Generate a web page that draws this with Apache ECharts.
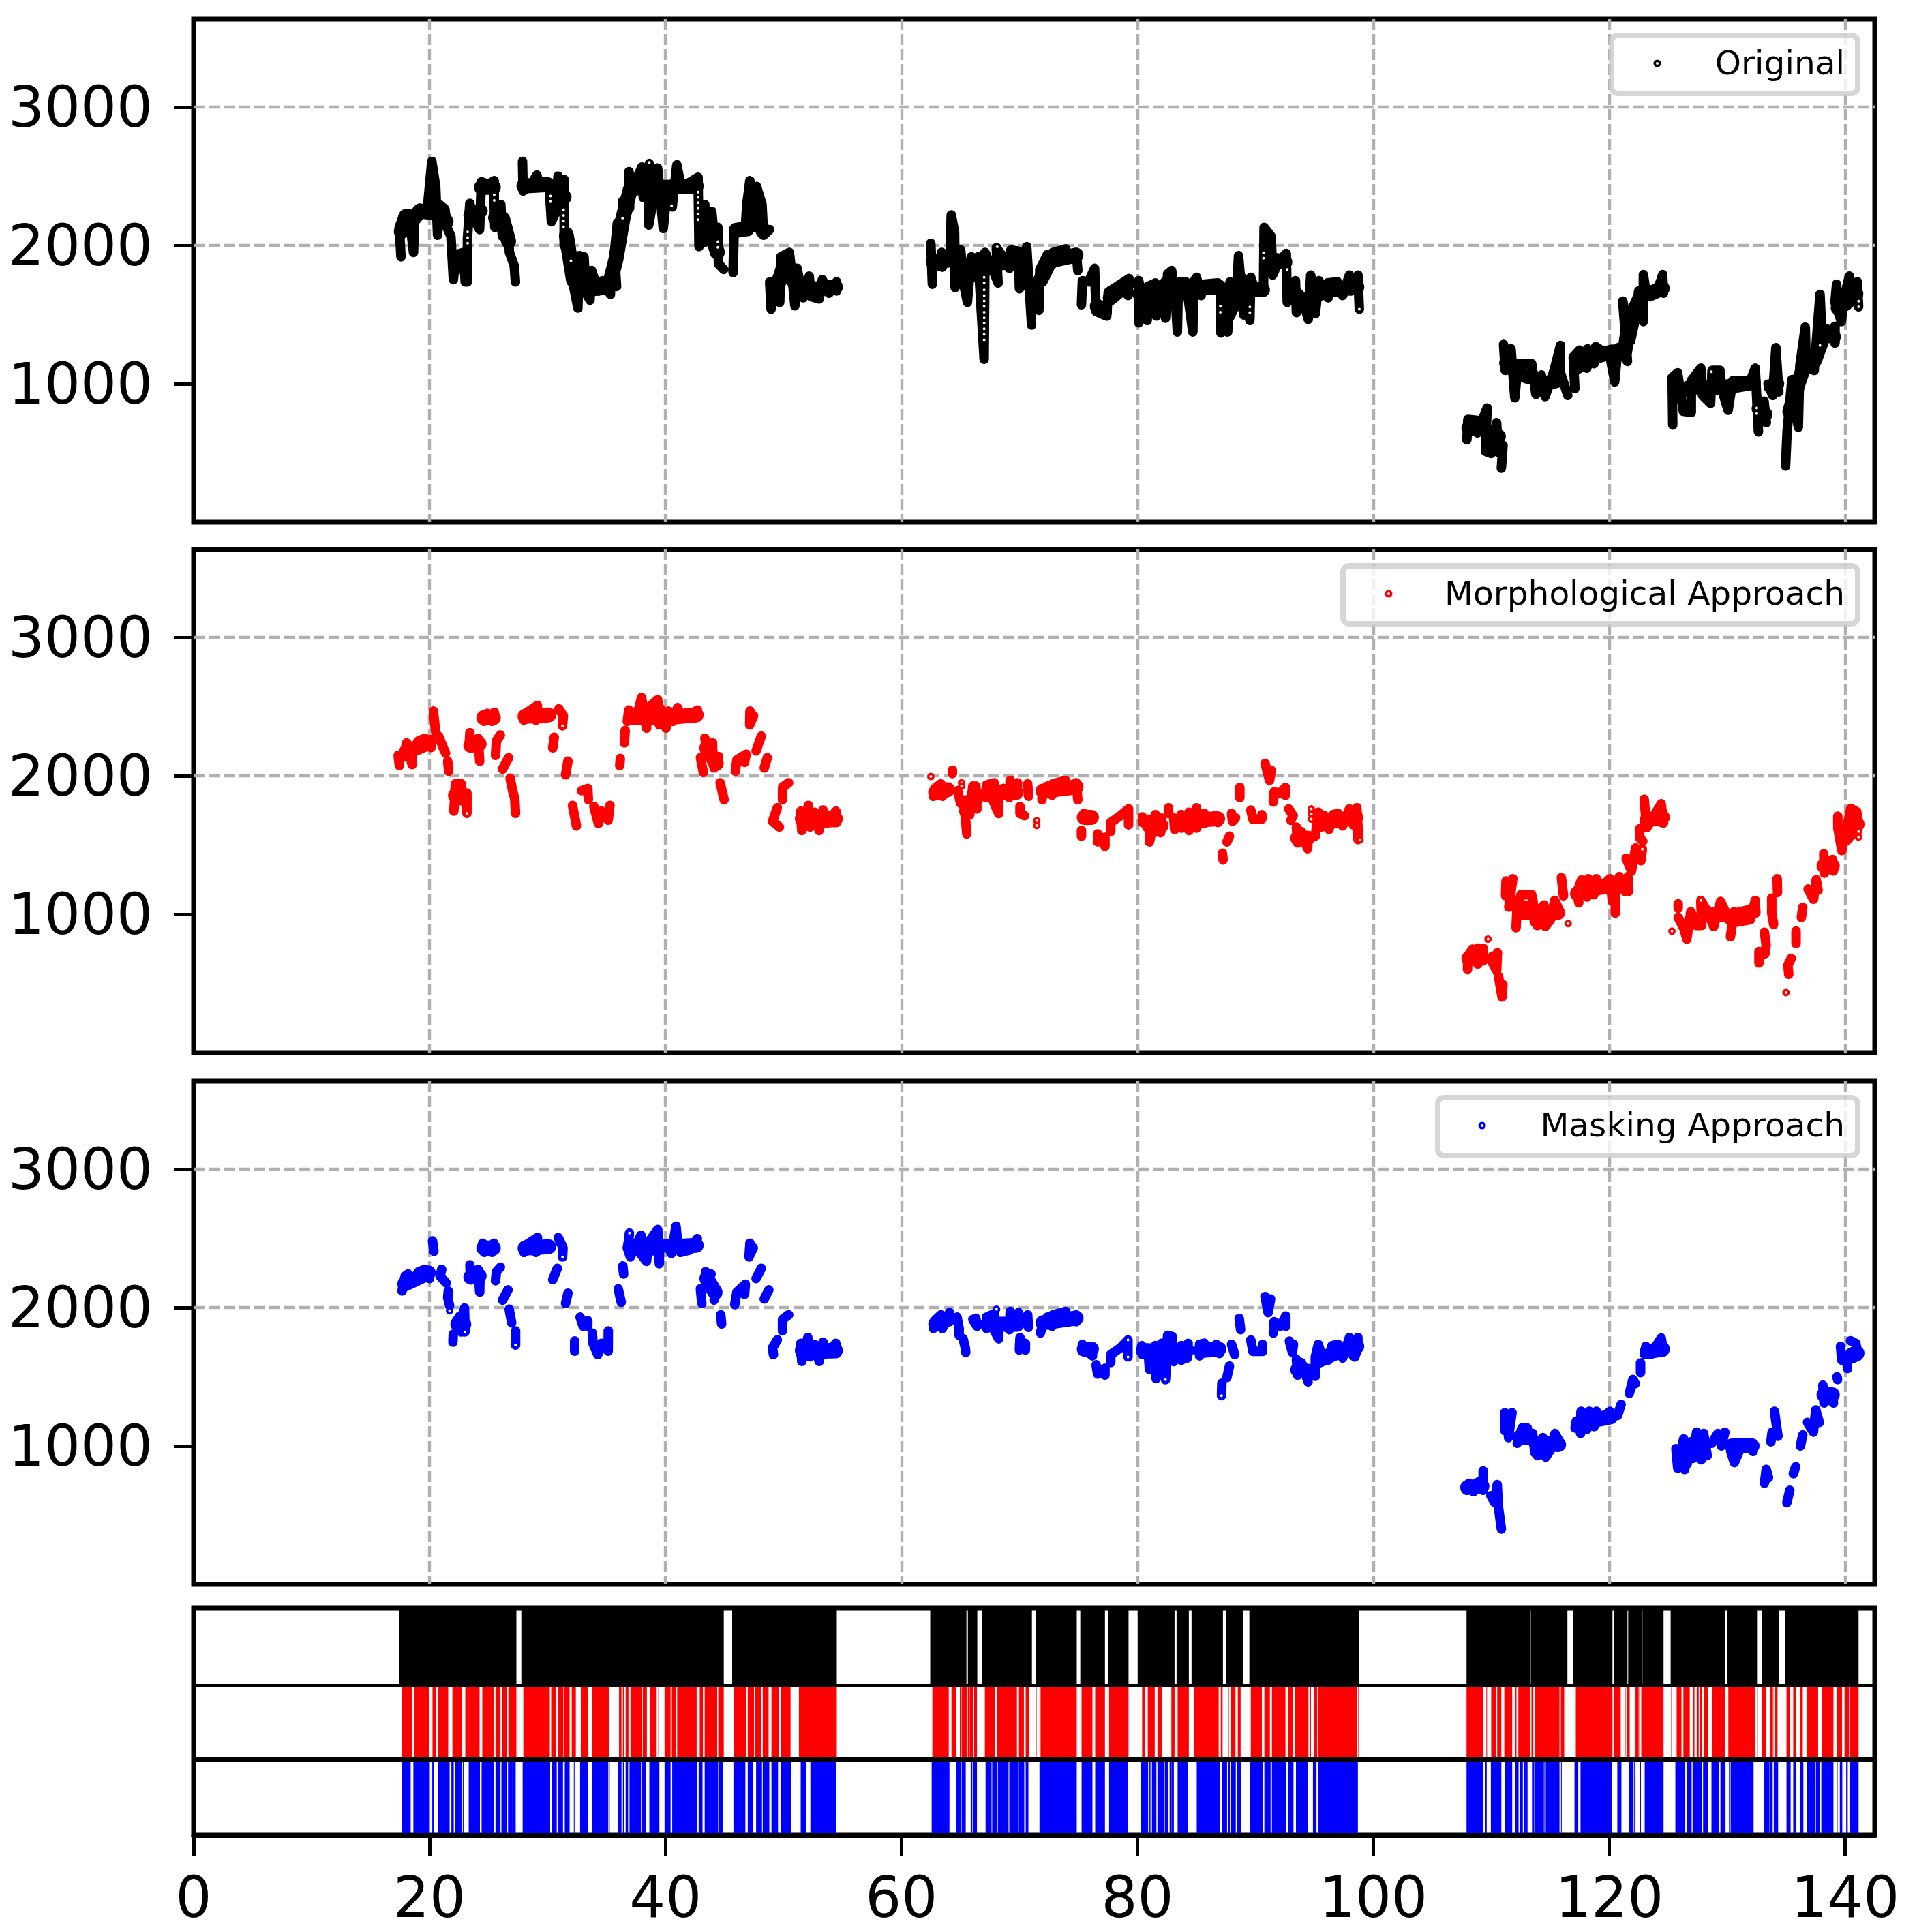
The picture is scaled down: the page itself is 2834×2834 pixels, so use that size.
<!DOCTYPE html>
<html>
<head>
<meta charset="utf-8">
<style>
  html, body { margin: 0; padding: 0; background: #fff; }
  #chart { width: 2834px; height: 2834px; }
</style>
<script src="https://cdn.jsdelivr.net/npm/echarts@6/dist/echarts.min.js"></script>
</head>
<body>
<div id="chart"></div>
<script>
const timeTicks = [0, 20, 40, 60, 80, 100, 120, 140]
const valueTicks = [1000, 2000, 3000]
const legendNames = ['Original', 'Morphological Approach', 'Masking Approach']

// dense runs of samples as [time, value]; null = pen up
const originalTrace = [
  [17.58,1918],[17.43,2131],[17.79,2213],[18.25,2230],[18.64,1950],[18.72,2164],[19.16,2254],[19.80,2254],[20.19,2608],[20.52,2427],[20.68,2074],[20.83,2296],[21.30,2263],[21.48,2131],[21.81,2066],[22.02,1753],[22.25,1934],[22.90,1950],[23.02,1737],[23.21,1737],[23.21,2049],[23.41,2304],[23.67,2213],[24.24,2115],[24.39,2460],[24.96,2443],[25.48,2468],[25.48,2296],[25.53,2131],[26.04,2296],[26.17,2066],[26.64,2123],[26.77,1950],[27.18,1852],[27.28,1737],
  null,
  [27.88,2608],[27.93,2394],[28.57,2435],[29.09,2509],[29.35,2419],[30.12,2452],[30.33,2172],[30.64,2230],[30.89,2501],[31.15,2296],[31.41,2476],[31.41,2000],[31.72,2098],[31.98,1983],[32.06,1770],[32.57,1548],[32.70,1926],[33.09,1918],[33.27,1655],[33.60,1605],[33.73,1819],[34.30,1671],[34.64,1745],[35.33,1647],[35.33,1803],[35.85,1704],[35.67,1950],[35.92,2164],[36.31,2041],[36.36,2320],[36.96,2271],[36.90,2534],[37.21,2411],[37.99,2567],[38.12,2345],[38.63,2591],[38.58,2148],[39.02,2361],[39.33,2559],[39.81,2123],[40.18,2427],[40.57,2279],[40.96,2583],[41.34,2419],[42.76,2493],[42.84,1992],[43.33,2296],[43.33,2024],[43.92,2246],[44.05,2131],[44.44,2131],[44.49,1868],[44.94,1827],
  null,
  [45.73,1803],[45.81,2082],[46.12,2123],[46.76,2115],[46.89,2296],[47.15,2468],[47.54,2131],[47.72,2427],[48.18,2296],[48.31,2074],[48.83,2115],
  null,
  [48.83,1737],[48.95,1540],[49.47,1770],[49.68,1589],[49.78,1918],[50.50,1950],[50.63,1852],[50.97,1564],[51.15,1835],[51.66,1622],[52.18,1778],[52.36,1630],[53.03,1614],[53.29,1753],[53.86,1655],[54.50,1737],[54.50,1671],
  null,
  [62.62,1720],[62.49,2016],[62.57,1868],[63.47,1844],[63.39,1950],[64.12,1909],[64.22,2221],[64.50,2098],[64.55,1696],[65.02,1967],[65.28,1720],[65.59,1589],[65.92,1918],[66.31,1770],[66.49,1918],[67.01,1178],[67.08,1950],[67.78,1819],[68.19,1729],[68.04,1983],[68.63,1918],[69.15,1835],[69.28,1967],[69.92,1959],[70.00,1688],[70.62,1991],[71.03,1425],
  null,
  [71.65,1531],[71.73,1827],[72.37,1934],[72.76,1860],[72.84,1950],[73.92,1975],[74.18,1901],[74.82,1950],[74.95,1819],
  null,
  [75.26,1572],[75.34,1745],[75.86,1737],[76.37,1835],[76.50,1523],[77.40,1490],[77.53,1663],[78.56,1720],[79.29,1761],[79.21,1638],
  null,
  [80.11,1441],[80.11,1745],[80.83,1458],[80.89,1704],[81.53,1729],[81.58,1490],[82.31,1737],[82.38,1474],[82.56,1794],[82.90,1819],[83.21,1622],[83.39,1375],[83.47,1737],[84.11,1737],[84.70,1375],[84.76,1737],[85.01,1770],[85.40,1638],[85.53,1720],[86.82,1729],[87.08,1696],[87.08,1367],
  null,
  [87.65,1375],[87.85,1737],[88.37,1556],[88.57,1926],[89.01,1498],
  null,
  [89.53,1458],[89.61,1770],[89.91,1688],[90.69,1688],[90.74,2131],[91.34,2065],[91.46,1786],[91.98,1885],[92.62,1942],[92.70,1589],[93.40,1745],[93.48,1515],[94.04,1605],[94.48,1466],[94.69,1786],[95.08,1507],[95.39,1745],[96.16,1622],[96.11,1729],[96.96,1737],[97.40,1638],[97.97,1786],[98.09,1671],[98.69,1786],[98.81,1540],
  null,
  [107.93,595],[108.01,743],[108.82,735],[108.82,645],[109.64,825],[109.50,513],[109.99,497],[110.45,719],[110.58,505],[110.99,554],[110.85,390],
  null,
  [111.04,1285],[111.18,1097],[111.67,1253],[111.99,899],[112.26,1146],[113.42,1146],[113.78,924],[114.24,1064],[114.56,908],[115.32,1097],[115.86,1277],[115.86,1080],[116.48,916],
  null,
  [117.08,965],[116.94,1195],[117.48,1244],[118.10,1113],[118.16,1253],[118.70,1146],[118.84,1269],[120.05,1203],[120.46,1014],[120.73,1261],[121.54,1162],[121.14,1598],[121.81,1310],[122.22,1474],[122.49,1672],[122.89,1450],[122.89,1790],[123.17,1630],[123.84,1655],[124.33,1737],[124.52,1790],[124.60,1655],
  null,
  [125.38,702],[125.33,1047],[125.79,1080],[126.28,801],[126.95,793],[126.95,1023],[127.76,1113],[127.90,916],[128.58,858],[128.71,1097],[129.39,1097],[129.52,965],[130.07,809],[130.47,1023],[131.96,1023],[132.37,1113],[132.64,653],[132.50,916],
  null,
  [133.12,875],[133.31,719],
  null,
  [133.45,998],[133.85,916],[134.12,1261],[134.37,941],
  null,
  [134.94,406],[135.07,653],[135.48,1031],[136.02,686],[136.15,1129],[136.61,1409],[136.70,1113],[137.37,1097],[137.51,1261],[137.86,1647],[138.05,1310],[139.13,1417],[139.13,1294],
  null,
  [139.27,1721],[139.13,1589],[139.67,1450],[139.94,1639],[140.35,1778],[140.62,1639],[141.02,1737],[141.13,1557]
]
// where the samples pile up into a solid band
const originalCore = [
  [17.6,2100],[18.0,2210],[18.5,2180],[19.2,2250],[20.0,2240],[20.8,2260],[21.4,2170], null,
  [22.2,1850],[23.0,1850], null, [23.5,2220],[24.3,2250], null, [24.4,2420],[25.4,2420], null, [25.6,2200],[26.2,2190],[26.7,2030], null,
  [28.0,2430],[30.0,2440], null, [30.9,2400],[31.4,2350], null, [31.6,2070],[32.2,1750],[33.0,1720],[34.0,1690],[35.2,1700],[35.8,1900],[36.4,2200],[37.0,2400],[38.0,2430],[40.0,2420],[42.6,2430], null, [43.5,2200],[44.4,1950], null,
  [46.0,2110],[46.9,2120], null, [47.3,2300],[48.3,2100], null, [49.3,1650],[50.2,1900],[50.8,1750],[52.0,1680],[54.4,1700], null,
  [62.7,1880],[64.5,1900], null, [65.3,1850],[66.2,1850], null, [67.3,1860],[69.8,1890], null, [70.2,1800],[71.0,1700], null, [71.8,1750],[72.6,1890],[74.8,1930], null, [76.6,1560],[77.2,1520], null, [77.7,1620],[79.1,1720], null,
  [80.2,1650],[81.5,1630],[83.0,1700],[85.0,1700],[86.9,1700], null, [87.7,1500],[88.8,1750], null, [89.7,1680],[90.6,1680], null, [91.2,1900],[92.5,1880], null, [93.4,1650],[94.3,1570],[95.3,1650],[96.5,1680],[98.6,1700], null,
  [108.1,680],[109.2,680], null, [109.7,650],[110.6,620], null, [111.3,1150],[112.2,1080],[113.2,1050], null, [113.5,1050],[114.5,1000],[115.8,1030], null, [117.2,1120],[118.5,1190],[120.2,1230], null, [120.5,1230],[121.3,1230],[121.7,1450],[122.6,1620], null, [123.4,1650],[124.5,1690], null,
  [125.6,930],[127.0,980],[128.5,970],[129.7,980], null, [130.1,980],[132.2,1010], null, [132.7,820],[133.2,780], null, [133.7,980],[134.2,1000], null, [135.3,800],[136.0,1000],[136.8,1200],[137.4,1170],[138.3,1380],[139.0,1340], null, [139.4,1550],[140.0,1580],[140.9,1650]
]
const originalRings = [
  [23.23,2098],[23.23,2057],[23.23,2016],[25.48,2366],[25.48,2325],[30.25,2358],[30.25,2317],[31.36,2258],[31.36,2217],[31.36,2176],[31.36,2136],[31.98,1890],[36.36,2197],[38.63,2600],[40.52,2287],[42.76,2386],[42.76,2348],[42.76,2309],[42.76,2268],[42.76,2227],[42.76,2186],[44.44,2028],[44.44,1987],
  [67.01,1770],[67.01,1729],[67.01,1679],[67.01,1638],[67.01,1599],[67.01,1559],[67.01,1518],[67.01,1477],[67.01,1438],[67.01,1398],[67.01,1357],[67.01,1318],[68.12,1991],[87.03,1561],[87.03,1518],[89.53,1556],[89.53,1515],[90.69,1947],[90.69,1908],[92.70,1827],[98.81,1540],
  [128.66,1088],[132.50,825],[132.50,784],[137.86,1277],[141.13,1598],[141.13,1557]
]

const morphTrace = [
  [17.44,2074],[17.34,2148],[17.80,2139],[18.06,2238],[18.52,2082],[18.57,2189],[19.09,2254],[19.61,2271],[20.12,2205],[20.12,2263],
  null, [20.33,2468],[20.51,2320],
  null, [20.77,2287],[21.15,2205],[21.36,2164],
  null, [21.54,2106],[21.62,2033],
  null, [22.06,1745],[22.19,1942],[22.70,1942],[22.70,1819],[23.17,1876],[23.17,1729],
  null, [23.42,2312],[23.35,2213],[24.12,2271],[24.25,2106],
  null, [24.51,2435],[24.64,2394],[24.90,2452],[25.28,2394],[25.49,2460],
  null, [26.00,2295],[25.67,2254],[25.59,2148],
  null, [26.70,2131],[26.19,2049],
  null, [26.83,1983],[27.04,1893],[27.22,1835],[27.29,1729],
  null, [28.00,2402],[28.12,2451],[29.15,2509],[29.02,2402],[29.67,2451],[30.18,2451],
  null, [30.96,2484],[31.34,2435],[31.27,2361],
  null, [30.57,2279],[30.44,2202],
  null, [31.73,2106],[31.53,2008],
  null, [32.89,1893],[33.41,1909],[33.46,1827],
  null, [32.12,1786],[32.45,1638],
  null, [33.93,1778],[34.31,1655],[34.57,1745],[35.14,1679],[35.29,1786],
  null, [36.17,2126],[36.12,2074],
  null, [36.51,2238],[36.58,2328],
  null, [36.76,2394],[36.89,2476],[37.54,2419],[37.97,2566],[38.39,2345],[38.44,2484],[39.34,2550],[39.47,2369],[39.60,2484],[40.04,2345],[40.25,2468],[40.63,2394],[41.02,2493],[41.41,2419],[42.05,2419],[42.70,2476],
  null, [43.34,2271],[43.60,2172],[43.99,2238],[43.99,2106],[44.12,2057],[44.50,2139],
  null, [42.96,2131],[43.21,2024],
  null, [44.63,1950],[44.97,1827],
  null, [45.92,2033],[46.05,2115],[46.83,2156],[46.70,2098],
  null, [47.16,2468],[47.14,2369],[47.47,2435],
  null, [48.12,2287],[47.68,2180],
  null, [48.63,2131],[48.37,2057],
  null, [50.44,1950],[49.92,1918],[49.92,1827],
  null, [49.48,1770],[49.07,1671],[49.66,1630],
  null, [51.47,1745],[51.55,1605],[52.11,1786],[52.24,1630],[52.63,1737],[53.02,1605],[53.35,1753],[53.66,1655],[54.44,1745],[54.50,1663],[51.47,1663],[54.50,1712],
  null, [62.70,1852],[62.83,1909],[63.34,1942],[63.47,1852],[63.99,1909],
  null, [64.32,2041],[64.32,2016],
  null, [64.76,1893],[65.02,1802],
  null, [65.54,1580],[65.41,1712],[65.28,1745],[65.79,1720],[66.05,1926],[66.40,1761],[66.31,1926],[65.92,1827],
  null, [67.21,1843],[67.21,1934],[67.86,1950],[67.78,1819],[68.24,1728],[68.24,1843],[68.63,1909],[69.15,1843],[69.22,1967],[69.79,1868],[69.84,1950],
  null, [70.70,1942],[70.77,1852],
  null, [70.05,1778],[70.05,1728],[70.44,1712],
  null, [71.91,1827],[71.99,1884],[72.37,1926],[72.76,1860],[72.84,1942],[73.92,1967],[74.05,1901],[74.82,1950],[74.95,1827],
  null, [75.47,1728],[76.19,1695],[75.73,1679],[75.34,1695],
  null, [75.26,1605],[75.26,1564],
  null, [76.63,1580],[76.63,1523],[77.25,1556],[77.25,1490],
  null, [77.74,1597],[77.74,1663],[78.56,1712],[79.25,1761],[79.25,1646],
  null, [80.42,1704],[80.42,1663],[81.02,1687],[81.02,1523],[81.53,1720],[81.40,1589],[82.05,1695],[81.97,1589],
  null, [82.64,1769],[82.64,1728],
  null, [83.08,1696],[83.16,1613],[83.72,1720],[83.72,1622],[84.37,1737],[84.37,1605],[85.01,1769],[85.01,1622],[85.66,1728],[85.66,1654],[86.56,1712],[86.82,1663],[86.89,1704],
  null, [87.21,1441],[87.26,1392],
  null, [87.80,1564],[87.59,1523],
  null, [87.98,1728],[88.06,1671],[88.32,1696],
  null, [88.68,1917],[88.68,1843],
  null, [89.61,1753],[89.79,1687],[90.55,1687],[90.55,1720],
  null, [90.82,2090],[91.20,1967],[91.34,2041],
  null, [91.52,1811],[91.59,1884],[92.11,1876],[92.55,1917],[92.55,1860],
  null, [92.83,1761],[93.20,1712],[93.01,1679],
  null, [93.48,1630],[93.58,1515],[93.91,1597],[94.43,1474],[94.48,1564],[95.08,1564],[95.33,1737],[95.59,1630],[95.85,1712],[96.24,1613],[96.62,1720],[97.01,1728],[97.40,1638],[97.97,1761],[98.30,1646],[98.60,1769],[98.70,1630],[98.70,1539],
  null, [107.98,599],[108.01,697],[108.39,747],[108.85,640],[108.85,755],[109.31,664],[109.31,755],
  null, [110.11,697],[110.11,648],[110.45,590],[110.52,722],
  null, [110.61,549],[110.91,402],[110.98,492],
  null, [111.25,1240],[111.21,1133],[111.82,1256],[111.48,1051],
  null, [112.10,903],[112.17,1034],[112.51,1141],[113.42,1141],[113.54,1092],[113.65,944],
  null, [112.51,993],[114.00,993],[113.88,919],[114.45,1067],[114.57,911],[115.02,960],[115.37,1100],[115.78,1026],
  null, [115.94,1264],[116.12,1133],
  null, [117.42,1083],[117.24,1157],[117.65,1248],[118.11,1124],[118.22,1256],[118.68,1141],[118.91,1256],[119.14,1182],[120.05,1256],[120.27,1092],
  null, [120.51,1009],[120.51,1174],[120.85,1272],[121.31,1166],[121.58,1272],[121.65,1166],
  null, [121.43,1404],[121.88,1313],[122.23,1478],[122.68,1387],[122.80,1469],
  null, [122.57,1617],[122.57,1552],[122.84,1527],
  null, [122.96,1831],[123.09,1700],[123.19,1626],[123.48,1667],[124.40,1798],[124.60,1659],[124.28,1667],
  null, [125.84,1075],[125.84,1042],
  null, [125.84,977],[126.34,894],[126.57,821],[126.91,1018],[127.37,919],[127.83,919],[127.76,1100],[128.28,1026],[128.85,911],[129.43,1092],[129.80,1026],
  null, [130.27,837],[130.57,1018],[130.91,944],[131.94,960],[132.37,1100],[132.37,1009],
  null, [133.15,870],[133.29,779],[133.20,714],[132.69,730],[132.69,648],
  null, [133.77,1116],[133.77,1009],[133.93,927],
  null, [134.23,1256],[134.26,1157],
  null, [135.42,681],[135.14,632],[135.21,566],
  null, [135.83,878],[135.83,788],
  null, [136.40,1050],[136.28,977],
  null, [136.85,1182],[137.31,1108],[137.54,1248],[137.70,1174],
  null, [138.18,1437],[138.23,1297],[138.91,1396],[139.00,1313],
  null, [139.37,1708],[139.37,1626],[139.71,1461],[140.17,1642],[140.47,1765],[140.97,1741],[141.13,1642],[140.17,1535]
]
const morphCore = [
  [18.0,2170],[19.9,2240], null, [22.2,1860],[22.7,1860], null, [23.5,2220],[24.2,2230], null, [24.6,2420],[25.4,2420], null, [28.1,2430],[30.1,2440], null, [37.1,2420],[38.4,2420], null, [38.7,2420],[40.0,2420],[42.6,2440], null, [43.5,2200],[44.3,2090], null, [51.6,1690],[54.4,1690], null,
  [62.9,1880],[63.9,1900], null, [65.4,1800],[66.3,1830], null, [67.3,1880],[69.7,1880], null, [72.0,1890],[74.8,1920], null, [75.5,1700],[76.1,1700], null, [81.0,1640],[82.0,1640], null, [83.5,1660],[84.3,1670], null, [84.9,1680],[86.8,1690], null, [93.6,1550],[94.4,1550], null, [95.4,1660],[97.0,1680],[98.5,1700], null,
  [108.1,680],[109.2,690], null, [112.4,1050],[113.2,1040], null, [113.8,1020],[115.6,1010], null, [117.3,1150],[119.0,1190],[120.2,1210], null, [123.2,1680],[124.5,1700], null, [128.8,1000],[129.7,1000], null, [130.2,980],[132.2,1020], null, [138.2,1350],[138.9,1350], null, [140.5,1650],[141.0,1650]
]
const morphRings = [
  [62.49,1995],[65.10,1950],[65.10,1926],[71.47,1676],[71.47,1641],[94.74,1761],[94.74,1725],[94.74,1687],[98.87,1539],
  [31.27,2361],[23.17,1729],[109.72,820],[116.51,932],[125.31,878],[134.98,434],[141.13,1598],[141.13,1558],[122.80,1469],[127.76,1100]
]

const maskTrace = [
  [17.67,2120],[17.93,2227],[18.19,2243],[18.40,2169],[19.09,2260],[19.61,2276],[19.99,2210],[20.02,2268],
  null, [20.25,2482],[20.37,2407],
  null, [21.03,2276],[20.90,2227],[21.41,2178],
  null, [21.59,2120],[21.54,2071],[21.70,2013],
  null, [22.19,1890],[22.57,1939],[22.70,1824],[22.96,1997],[23.01,1824],
  null, [22.01,1808],[21.98,1750],
  null, [23.42,2309],[23.48,2210],[24.12,2276],[24.25,2112],[24.27,2219],
  null, [24.51,2465],[24.64,2399],[25.02,2449],[25.28,2399],[25.45,2465],
  null, [26.00,2292],[25.67,2260],[25.59,2194],
  null, [26.65,2128],[26.19,2054],
  null, [26.75,1988],[26.96,1890],
  null, [27.29,1832],[27.29,1729],
  null, [28.00,2399],[28.12,2449],[29.15,2506],[29.02,2399],[29.67,2449],[30.22,2432],
  null, [30.91,2506],[31.31,2432],[31.27,2366],
  null, [30.83,2284],[30.44,2202],
  null, [31.73,2104],[31.53,2030],
  null, [32.76,1931],[33.02,1865],[33.41,1906],[33.41,1865],
  null, [32.30,1759],[32.30,1685],
  null, [33.80,1816],[33.85,1742],[34.26,1660],[34.57,1742],[35.14,1685],[35.15,1832],
  null, [36.38,2301],[36.45,2243],
  null, [35.99,2136],[36.25,2038],
  null, [36.94,2539],[36.89,2490],[36.76,2432],[37.02,2366],[37.92,2522],[37.79,2399],[38.39,2334],[38.57,2473],[39.34,2564],[39.48,2317],[39.48,2449],[40.12,2465],[40.50,2391],[40.89,2588],[41.02,2481],[41.28,2399],[42.05,2416],[42.70,2498],
  null, [43.39,2260],[43.60,2186],[43.86,2243],
  null, [44.06,2161],[44.25,2104],[44.12,2054],
  null, [42.96,2136],[43.08,2030],
  null, [44.68,1948],[44.76,1882],
  null, [45.87,2021],[46.05,2112],[46.77,2169],[46.70,2095],
  null, [47.16,2465],[47.08,2366],[47.44,2432],
  null, [48.12,2284],[47.68,2210],
  null, [48.76,2128],[48.37,2062],
  null, [50.44,1948],[49.92,1915],[49.92,1832],
  null, [49.48,1767],[49.07,1709],[49.15,1660],
  null, [51.47,1742],[51.55,1611],[52.06,1783],[52.24,1644],[52.63,1734],[53.02,1611],[53.35,1750],[53.66,1660],[54.44,1742],[54.49,1668],[51.47,1660],[54.49,1709],
  null, [62.70,1849],[62.83,1906],[63.34,1947],[63.47,1849],[64.07,1964],[64.06,1898],
  null, [64.71,1931],[64.89,1849],[64.89,1799],
  null, [65.23,1775],[65.41,1709],[65.45,1676],
  null, [66.05,1914],[66.40,1865],[66.31,1923],
  null, [67.21,1849],[67.21,1931],[67.86,1955],[67.78,1849],[68.24,1775],[68.19,1873],[68.63,1898],[69.15,1840],[69.22,1972],[69.79,1865],[69.92,1964],
  null, [70.70,1947],[70.76,1857],
  null, [70.05,1783],[70.00,1693],[70.51,1742],[70.51,1693],
  null, [71.78,1816],[71.99,1881],[72.37,1931],[72.76,1865],[72.84,1947],[73.92,1972],[74.05,1898],[74.82,1947],[74.82,1898],
  null, [75.34,1734],[75.34,1684],[76.19,1717],[76.19,1651],[75.73,1684],
  null, [76.50,1586],[76.63,1520],[77.25,1561],[77.25,1512],
  null, [77.74,1602],[77.74,1660],[78.56,1709],[79.20,1766],[79.20,1643],
  null, [80.37,1725],[80.42,1660],[80.91,1693],[81.02,1553],[81.53,1725],[81.58,1487],[82.05,1742],[82.38,1479],[82.56,1799],[82.95,1791],[83.08,1610],[83.72,1725],[83.72,1619],[84.30,1742],[84.24,1635],
  null, [85.27,1651],[85.27,1734],[85.66,1742],[86.05,1684],[86.69,1734],[86.95,1668],
  null, [87.13,1364],[87.16,1454],
  null, [87.59,1495],[87.80,1577],
  null, [87.98,1734],[88.24,1660],
  null, [88.63,1922],[88.75,1840],
  null, [89.61,1766],[89.79,1684],[90.61,1684],[90.61,1734],
  null, [90.82,2079],[91.08,1964],[91.29,2062],
  null, [91.52,1816],[91.59,1898],[92.11,1865],[92.58,1939],[92.58,1865],
  null, [92.88,1758],[93.14,1676],[93.23,1734],
  null, [93.48,1627],[93.58,1512],[93.91,1602],[94.47,1463],
  null, [94.88,1561],[95.08,1504],[95.08,1643],[95.33,1734],[95.72,1627],[96.16,1619],[96.50,1725],[97.01,1734],[97.40,1635],[97.97,1783],[98.30,1651],[98.69,1783],[98.69,1709],[98.43,1643],
  null, [107.90,680],[108.10,730],[108.50,670],[108.90,740],[109.31,680],[109.31,820],
  null, [109.96,640],[110.30,590],[110.50,720],[110.60,560],[110.85,400],
  null, [111.15,1240],[111.15,1110],[111.75,1240],[111.45,1060],
  null, [112.20,1020],[112.60,1130],[113.05,1130],
  null, [113.50,1090],[113.70,950],[114.00,1000],[113.90,930],[114.37,1060],
  null, [114.61,920],[115.00,970],[115.40,1090],[115.78,1030],
  null, [117.10,1130],[117.20,1180],
  null, [117.56,1090],[117.60,1250],[118.10,1120],[118.30,1250],[118.70,1140],[118.90,1250],[119.20,1180],[120.05,1250],[120.20,1230],
  null, [120.70,1220],[121.00,1300],
  null, [121.70,1380],[122.00,1480],[122.20,1450],
  null, [122.65,1600],[122.65,1530],
  null, [123.00,1660],[123.10,1720],[123.50,1660],[124.40,1780],[124.60,1680],[124.20,1680],
  null, [125.65,980],[125.80,840],[126.30,1050],[126.40,830],
  null, [126.60,870],[126.90,1030],
  null, [127.10,910],[127.40,1100],[127.80,900],
  null, [128.00,1090],[128.30,930],
  null, [128.70,1020],[129.20,1090],
  null, [129.50,1000],[129.80,1100],
  null, [130.30,960],[130.60,880],[131.20,1000],[132.10,1020],[132.20,960],
  null, [133.15,730],[133.30,830],[133.50,770],
  null, [133.70,1030],[133.80,1100],
  null, [134.00,1250],[134.20,1130],[134.30,1070],
  null, [135.05,590],[135.30,680],
  null, [135.60,800],[135.80,850],
  null, [136.20,1000],[136.40,1080],
  null, [136.80,1170],[137.30,1100],[137.50,1260],[137.80,1170],
  null, [138.10,1440],[138.20,1310],[138.90,1380],[139.00,1310],
  null, [139.30,1500],[139.35,1480],
  null, [139.60,1720],[139.70,1620],
  null, [140.10,1630],[140.20,1560],
  null, [140.45,1760],[140.90,1740],[141.10,1650],[140.60,1630]
]
const maskCore = [
  [17.9,2170],[19.9,2250], null, [22.4,1880],[22.9,1880], null, [23.5,2220],[24.2,2230], null, [24.6,2430],[25.4,2430], null, [28.1,2430],[30.1,2440], null, [37.1,2430],[37.9,2430], null, [38.7,2430],[39.4,2430], null, [40.6,2440],[42.6,2450], null, [43.5,2210],[44.2,2110], null, [51.6,1690],[54.4,1690], null,
  [62.9,1880],[64.0,1920], null, [67.3,1880],[69.8,1880], null, [72.0,1890],[74.8,1925], null, [75.5,1700],[76.1,1700], null, [80.5,1690],[82.8,1680], null, [83.5,1680],[84.2,1690], null, [85.4,1690],[86.9,1700], null, [93.6,1550],[94.4,1540], null, [95.4,1620],[97.0,1680],[98.6,1720], null,
  [108.0,700],[109.2,710], null, [112.4,1060],[113.0,1060], null, [113.8,1020],[115.7,1010], null, [117.7,1170],[120.1,1210], null, [123.2,1680],[124.5,1700], null, [126.0,960],[126.4,960], null, [130.4,1000],[132.1,1000], null, [138.2,1370],[138.9,1370], null, [140.6,1660],[141.0,1670]
]
const maskRings = [
  [31.27,2366],[36.94,2539],[21.70,1977],[23.01,1824],[27.29,1729],[68.06,1988],[79.20,1766],[79.20,1643],[87.13,1364],[82.38,1479]
]

// coverage strip: stretches of time where each method kept samples
const originalOn = [
  [17.42,27.36],[27.78,44.94],[45.65,54.52],
  [62.44,65.51],[65.63,66.43],[66.84,71.06],[71.41,74.86],[75.16,77.25],[77.49,79.25],[80.02,83.15],[83.32,84.36],[84.59,87.25],[87.54,88.93],[89.49,98.81],
  [107.90,113.29],[113.34,116.45],[116.91,120.27],[120.41,121.54],[121.60,122.76],[122.81,124.60],[125.20,129.82],[129.98,132.58],[132.93,134.37],[134.91,141.13]
]
const morphOn = [
  [17.66,18.52],[18.69,19.96],[20.25,20.52],[20.73,21.58],[21.94,22.73],[23.03,23.23],[23.29,24.24],[24.47,25.45],[25.59,26.01],[26.15,26.57],[26.68,27.36],[27.95,30.19],[30.31,30.72],[30.90,31.34],[31.43,31.87],[32.05,32.40],[32.82,33.44],[33.79,35.24],[36.06,36.27],[36.39,36.50],[36.62,36.86],[37.03,37.98],[38.07,38.42],[38.69,39.25],[39.39,39.45],[39.92,40.43],[40.54,40.90],[40.99,42.64],[42.90,43.17],[43.32,44.38],[44.47,44.94],[45.82,46.86],[46.97,47.50],[47.59,48.12],[48.24,48.74],[48.98,49.63],[49.80,50.60],[51.31,54.52],
  [62.62,64.01],[64.24,64.63],[64.95,65.01],[65.10,65.57],[65.63,65.72],[65.78,66.07],[66.16,66.40],[67.07,67.93],[68.11,69.79],[69.96,70.38],[70.53,70.82],[71.44,71.47],[71.79,74.86],[75.18,75.24],[75.27,76.19],[76.42,77.25],[77.60,79.25],[80.40,80.64],[80.88,81.47],[81.70,82.09],[82.88,83.15],[83.41,84.36],[84.83,86.89],[87.07,87.22],[87.69,87.75],[87.92,88.31],[88.51,88.75],[89.61,90.55],[90.76,91.23],[91.40,92.55],[92.79,93.20],[93.38,94.50],[94.65,94.71],[94.97,95.24],[95.30,98.60],[98.72,98.78],
  [107.90,109.31],[109.58,109.64],[109.99,110.42],[110.50,110.85],[111.10,111.77],[111.99,112.13],[112.29,113.29],[113.40,113.56],[113.69,115.78],[115.89,116.18],[117.16,120.27],[120.41,120.97],[121.30,121.38],[121.46,121.73],[122.22,122.49],[122.54,122.60],[122.71,124.60],[125.25,125.28],[125.71,126.12],[126.28,126.82],[127.09,127.22],[127.41,127.58],[127.66,127.85],[128.01,128.36],[128.71,129.80],[130.09,132.37],[132.56,132.58],[132.93,133.29],[133.66,133.80],[133.85,133.91],[134.04,134.26],[135.02,135.32],[135.59,135.83],[136.18,136.40],[136.75,137.70],[138.02,139.00],[139.29,139.73],[139.94,140.32],[140.38,141.13]
]
const maskOn = [
  [17.66,18.40],[18.63,20.02],[20.23,20.37],[20.73,21.70],[21.85,22.05],[22.14,22.73],[22.82,22.88],[23.32,24.27],[24.41,25.45],[25.59,26.01],[26.09,26.57],[26.65,27.04],[27.10,27.30],[27.89,30.22],[30.37,30.78],[30.87,31.31],[31.46,31.87],[32.23,32.29],[32.76,33.41],[33.79,35.15],[35.21,35.27],[35.97,36.27],[36.39,36.50],[36.62,36.83],[36.95,37.92],[38.01,38.36],[38.63,39.48],[39.92,40.43],[40.57,42.70],[42.81,43.14],[43.32,44.44],[44.47,44.88],[45.76,46.77],[46.97,47.44],[47.68,48.18],[48.24,48.80],[48.98,49.54],[49.75,50.66],[51.46,51.93],[52.28,54.49],
  [62.56,64.07],[64.63,65.01],[65.10,65.45],[65.87,66.01],[66.07,66.40],[67.13,67.64],[67.69,68.08],[68.17,69.08],[69.14,69.88],[69.94,70.41],[70.53,70.76],[71.70,74.86],[75.27,76.19],[76.42,77.25],[77.60,79.20],[80.32,80.91],[81.02,81.11],[81.23,81.61],[81.70,82.23],[82.32,82.62],[82.73,82.82],[82.88,83.09],[83.41,84.30],[85.03,86.98],[87.16,87.60],[87.69,87.84],[87.92,88.34],[88.45,88.81],[89.55,90.61],[90.76,91.29],[91.40,92.58],[92.79,93.23],[93.44,94.47],[94.88,95.18],[95.33,98.69],
  [107.90,109.31],[109.50,109.61],[109.96,110.85],[111.15,111.77],[111.99,112.31],[112.40,112.67],[112.75,112.91],[112.96,113.07],[113.45,113.64],[113.69,114.37],[114.43,114.51],[114.61,115.78],[115.91,115.97],[117.05,117.37],[117.56,120.22],[120.68,121.03],[121.30,121.33],[121.68,122.06],[122.11,122.22],[122.60,122.68],[123.00,124.60],[125.60,126.44],[126.55,126.98],[127.06,127.87],[127.95,128.39],[128.66,129.31],[129.42,129.85],[130.15,130.20],[130.28,132.23],[133.10,133.58],[133.66,133.85],[133.94,134.31],[135.02,135.37],[135.59,135.83],[136.18,136.45],[136.75,137.43],[137.51,137.83],[137.97,139.00],[139.29,139.35],[139.54,139.75],[140.08,140.21],[140.40,141.13]
]

const FONT = 'DejaVu Sans'
const LEFT = 284
const RIGHT = 84
const panelTops = [28, 806, 1586]
const panelHeight = 738
const colors = ['#000000', '#ff0000', '#0000ff']

const chart = echarts.init(document.getElementById('chart'), null, { renderer: 'canvas' })

const gridLine = { show: true, showMinLine: false, lineStyle: { color: '#b0b0b0', width: 4.4, type: [16, 6] } }
const plainNumber = value => String(value)

const grids = panelTops.map(top => ({
  left: LEFT, right: RIGHT, top: top, height: panelHeight, outerBoundsMode: 'none',
  show: true, borderColor: '#000', borderWidth: 7, backgroundColor: '#fff'
}))
grids.push({
  left: LEFT, right: RIGHT, top: 2359, height: 333, outerBoundsMode: 'none',
  show: true, borderColor: '#000', borderWidth: 7, backgroundColor: '#fff'
})

const xAxes = panelTops.map((_, i) => ({
  type: 'value', gridIndex: i, min: 0, max: 142.5,
  axisLine: { show: false },
  axisTick: { show: false, customValues: timeTicks },
  axisLabel: { show: false, customValues: timeTicks },
  splitLine: gridLine
}))
xAxes.push({
  type: 'value', gridIndex: 3, min: 0, max: 142.5, z: 10,
  axisLine: { show: true, onZero: false, lineStyle: { color: '#000', width: 7 } },
  axisTick: { show: true, length: 30, lineStyle: { color: '#000', width: 5 }, customValues: timeTicks },
  axisLabel: { show: true, margin: 57, fontFamily: FONT, fontSize: 83.3, color: '#000', customValues: timeTicks, formatter: plainNumber },
  splitLine: { show: false }
})

// rich text so the padding nudges the digits down onto the tick
const yAxes = panelTops.map((_, i) => ({
  type: 'value', gridIndex: i, min: 0, max: 3636,
  axisLine: { show: false },
  axisTick: { show: true, length: 29, lineStyle: { color: '#000', width: 5 }, customValues: valueTicks },
  axisLabel: {
    show: true, margin: 60, customValues: valueTicks,
    formatter: value => '{n|' + value + '}',
    rich: { n: { padding: [14, 0, 0, 0], fontFamily: FONT, fontSize: 83.3, color: '#000' } }
  },
  splitLine: gridLine
}))
yAxes.push({
  type: 'value', gridIndex: 3, min: 0, max: 3,
  axisLine: { show: false }, axisTick: { show: false }, axisLabel: { show: false }, splitLine: { show: false }
})

const toLine = pts => pts.map(p => p === null ? [NaN, NaN] : p)

function traceSeries(trace, core, rings, i) {
  const base = { type: 'line', xAxisIndex: i, yAxisIndex: i, showSymbol: false, silent: true, name: legendNames[i] }
  return [
    Object.assign({}, base, {
      z: 3,
      lineStyle: { color: colors[i], width: 14, cap: 'round', join: 'round' },
      data: toLine(trace)
    }),
    Object.assign({}, base, {
      z: 3,
      lineStyle: { color: colors[i], width: 22, cap: 'round', join: 'round' },
      data: toLine(core)
    }),
    {
      name: legendNames[i],
      type: 'scatter', xAxisIndex: i, yAxisIndex: i, z: 4,
      symbol: 'circle', symbolSize: 7.5, silent: true,
      itemStyle: { color: '#fff', borderColor: colors[i], borderWidth: 3.5, opacity: 1 },
      data: rings
    }
  ]
}

function stripSeries(spans, row, extra) {
  return Object.assign({
    type: 'custom', xAxisIndex: 3, yAxisIndex: 3, z: 3, silent: true, clip: true,
    encode: { x: [0, 1] },
    renderItem: function (params, api) {
      const a = api.coord([api.value(0), row + 1])
      const b = api.coord([api.value(1), row])
      return {
        type: 'rect',
        shape: { x: a[0], y: a[1], width: b[0] - a[0], height: b[1] - a[1] },
        style: { fill: colors[2 - row] }
      }
    },
    data: spans
  }, extra || {})
}

const separators = {
  markLine: {
    silent: true, symbol: 'none', animation: false, label: { show: false }, z: 6,
    data: [
      { yAxis: 1.98, lineStyle: { color: '#000', width: 4, type: 'solid' } },
      { yAxis: 1, lineStyle: { color: '#000', width: 7, type: 'solid' } }
    ]
  }
}

const series = [].concat(
  traceSeries(originalTrace, originalCore, originalRings, 0),
  traceSeries(morphTrace, morphCore, morphRings, 1),
  traceSeries(maskTrace, maskCore, maskRings, 2),
  [stripSeries(originalOn, 2), stripSeries(morphOn, 1), stripSeries(maskOn, 0, separators)]
)

// legend boxes sit inside each panel, same shape as matplotlib's frame
const legendBoxes = [
  { left: 2364, marker: 2431 },
  { left: 1970, marker: 2037 },
  { left: 2109, marker: 2174 }
]
const legendGraphics = []
legendBoxes.forEach((box, i) => {
  const top = panelTops[i] + 24
  legendGraphics.push({
    type: 'rect', z: 20,
    shape: { x: box.left, y: top, width: 2725 - box.left, height: 85, r: 9 },
    style: { fill: 'rgba(255,255,255,0.8)', stroke: 'rgba(204,204,204,0.8)', lineWidth: 8 }
  })
  legendGraphics.push({
    type: 'circle', z: 21,
    shape: { cx: box.marker, cy: top + 41, r: 3.8 },
    style: { fill: '#fff', stroke: colors[i], lineWidth: 3.5 }
  })
  legendGraphics.push({
    type: 'text', z: 21,
    style: {
      text: legendNames[i], x: 2706, y: top + 44, align: 'right', verticalAlign: 'middle',
      font: '48.6px "DejaVu Sans"', fill: '#000'
    }
  })
})

chart.setOption({
  animation: false,
  backgroundColor: '#fff',
  grid: grids,
  xAxis: xAxes,
  yAxis: yAxes,
  series: series,
  graphic: legendGraphics
})
</script>
</body>
</html>
